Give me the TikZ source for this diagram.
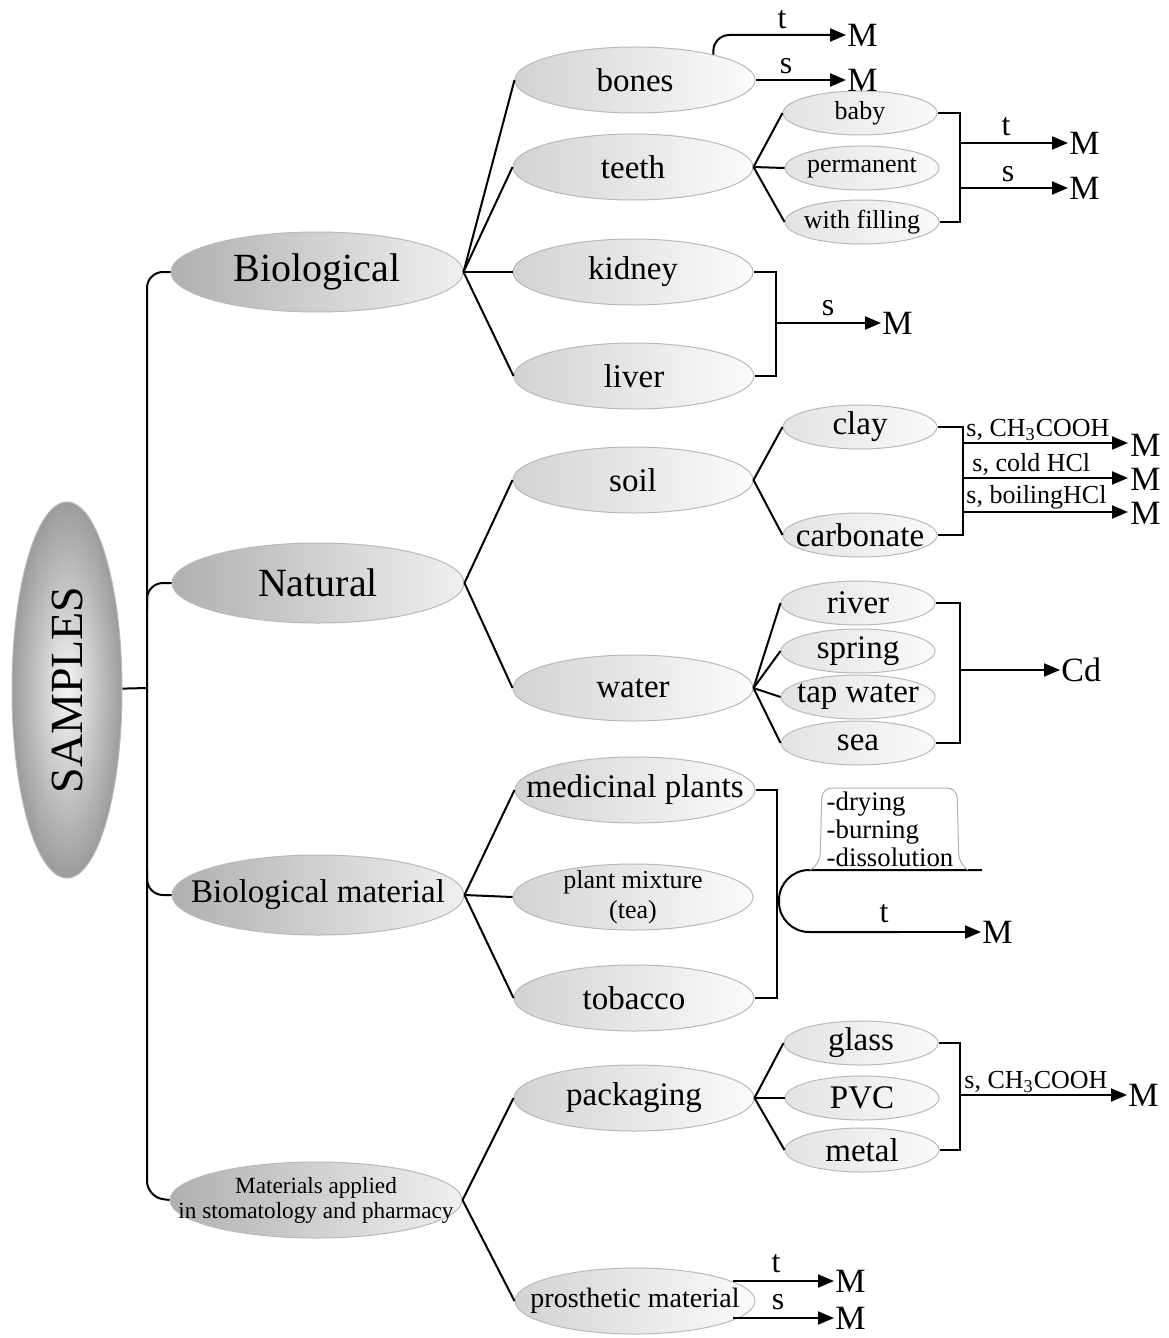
\documentclass[tikz,border=0pt]{standalone}
\usepackage{fontspec}
\setmainfont{Liberation Serif}
\usetikzlibrary{shapes.geometric,arrows.meta}
\begin{document}
\begin{tikzpicture}[x=0.5pt,y=-0.5pt,
  ell/.style={ellipse, draw=gray!55, line width=0.5pt, inner xsep=-70pt, inner ysep=-20pt},
  lone/.style={ell, minimum width=146pt, minimum height=40pt, left color=gray!62, right color=gray!12, font=\fontsize{20}{22}\selectfont},
  ltwo/.style={ell, minimum width=120pt, minimum height=33pt, left color=gray!35, right color=gray!3, font=\fontsize{16.5}{18}\selectfont},
  lthree/.style={ell, minimum width=77pt, minimum height=22pt, left color=gray!22, right color=gray!4, font=\fontsize{16.5}{18}\selectfont},
  lsmall/.style={lthree, font=\fontsize{13}{14}\selectfont},
  conn/.style={line width=1pt, black},
  arr/.style={conn, -{Triangle[length=8pt,width=6.5pt]}},
  res/.style={anchor=west, inner sep=0.5pt, font=\fontsize{17}{18}\selectfont},
  lab/.style={inner sep=1pt, font=\fontsize{16}{17}\selectfont},
  clab/.style={anchor=south west, inner sep=1pt, font=\fontsize{13}{14}\selectfont}
]
\useasboundingbox (0,0) rectangle (1168,1338);

% root
\node[ell, rotate=90, minimum width=188pt, minimum height=55pt, inner color=gray!8, outer color=gray!78, font=\fontsize{23}{24}\selectfont] (samples) at (67,690) {SAMPLES};

% level 1
\node[lone] (bio) at (317,272) {Biological};
\node[lone] (nat) at (318,583) {Natural};
\node[lone, font=\fontsize{16.5}{18}\selectfont] (biomat) at (318,895) {Biological material};
\node[lone, minimum height=38pt, font=\fontsize{11.6}{12.5}\selectfont, align=center] (mat) at (316,1200) {Materials applied\\in stomatology and pharmacy};

% level 2
\node[ltwo] (bones) at (635,80) {bones};
\node[ltwo] (teeth) at (633,167) {teeth};
\node[ltwo] (kidney) at (633,272) {kidney};
\node[ltwo] (liver) at (634,376) {liver};
\node[ltwo] (soil) at (633,480) {soil};
\node[ltwo] (water) at (633,688) {water};
\node[ltwo] (med) at (635,790) {medicinal plants};
\node[ltwo, align=center, font=\fontsize{13}{15}\selectfont] (mix) at (633,897) {plant mixture\\(tea)};
\node[ltwo] (tob) at (634,998) {tobacco};
\node[ltwo] (pack) at (634,1098) {packaging};
\node[ltwo, font=\fontsize{14}{16}\selectfont] (pro) at (635,1301) {prosthetic material};

% level 3
\node[lsmall] (baby) at (860,113) {baby};
\node[lsmall] (perm) at (862,168) {permanent};
\node[lsmall] (wf) at (862,222) {with filling};
\node[lthree] (clay) at (860,427) {clay};
\node[lthree] (carb) at (860,535) {carbonate};
\node[lthree] (river) at (858,603) {river};
\node[lthree] (spring) at (858,651) {spring};
\node[lthree] (tap) at (858,697) {tap water};
\node[lthree] (sea) at (858,743) {sea};
\node[lthree] (glass) at (861,1043) {glass};
\node[lthree] (pvc) at (862,1098) {PVC};
\node[lthree] (metal) at (862,1150) {metal};

% trunk
\draw[conn] (samples) -- (147,688);
\draw[conn, rounded corners=8pt] (bio.west) -- (147,272) -- (147,1197) -- (mat.west);
\draw[conn, rounded corners=8pt] (147,610) -- (147,583) -- (nat.west);
\draw[conn, rounded corners=8pt] (147,870) -- (147,895) -- (biomat.west);

% level 1 -> level 2
\foreach \c in {bones,teeth,kidney,liver} \draw[conn] (bio.east) -- (\c.west);
\foreach \c in {soil,water} \draw[conn] (nat.east) -- (\c.west);
\foreach \c in {med,mix,tob} \draw[conn] (biomat.east) -- (\c.west);
\foreach \c in {pack,pro} \draw[conn] (mat.east) -- (\c.west);

% level 2 -> level 3
\foreach \c in {baby,perm,wf} \draw[conn] (teeth.east) -- (\c.west);
\foreach \c in {clay,carb} \draw[conn] (soil.east) -- (\c.west);
\foreach \c in {river,spring,tap,sea} \draw[conn] (water.east) -- (\c.west);
\foreach \c in {glass,pvc,metal} \draw[conn] (pack.east) -- (\c.west);

% results
\node[res] (Mb1) at (846,35) {M};
\node[res] (Mb2) at (846,80) {M};
\node[lab] (lbt) at (782,20) {t};
\node[lab] (lbs) at (786,66) {s};
\draw[arr, rounded corners=8pt] (bones.18) |- (Mb1.west);
\draw[arr] (bones.east) -- (Mb2.west);

% teeth bracket
\draw[conn] (baby.east) -| (960,168) |- (wf.east);
\coordinate (tb1) at (960,143);
\coordinate (tb2) at (960,188);
\node[res] (Mt1) at (1068,143) {M};
\node[res] (Mt2) at (1068,188) {M};
\draw[arr] (tb1) -- (Mt1.west);
\draw[arr] (tb2) -- (Mt2.west);
\node[lab] (ltt) at (1006,127) {t};
\node[lab] (lts) at (1008,174) {s};

% kidney / liver bracket
\draw[conn] (kidney.east) -| (776,323) |- (liver.east);
\coordinate (kb) at (776,323);
\node[res] (Mk) at (881,323) {M};
\draw[arr] (kb) -- (Mk.west);
\node[lab] (lks) at (828,308) {s};

% soil bracket
\draw[conn] (clay.east) -| (963,480) |- (carb.east);
\coordinate (sb1) at (963,443);
\coordinate (sb2) at (963,478);
\coordinate (sb3) at (963,512);
\node[res] (Ms1) at (1129,445) {M};
\node[res] (Ms2) at (1129,479) {M};
\node[res] (Ms3) at (1129,513) {M};
\draw[arr] (sb1) -- (1128,443);
\draw[arr] (sb2) -- (1128,478);
\draw[arr] (sb3) -- (1128,512);
\node[clab] (ls1) at (964,443) {s, CH\textsubscript{3}COOH};
\node[clab] (ls2) at (970,478) {s, cold HCl};
\node[clab] (ls3) at (964,512) {s, boilingHCl};

% water bracket
\draw[conn] (river.east) -| (960,670) |- (sea.east);
\coordinate (wb) at (960,670);
\node[res] (Cd) at (1060,670) {Cd};
\draw[arr] (wb) -- (Cd.west);

% medicinal bracket
\draw[conn] (med.east) -| (777,900) |- (tob.east);
\node[res] (Mm) at (981,932) {M};
\coordinate (mtop) at (982,870);
\draw[conn, rounded corners=15pt] (mtop) -- (779,870) -- (779,932) -- (900,932);
\draw[arr] (880,932) -- (Mm.west);
\node[lab] (lmt) at (884,914) {t};
\draw[gray!60, line width=0.5pt, rounded corners=5pt] (810,870) -- (820,864) -- (822,788) -- (957,788) -- (959,864) -- (968,870);
\node[align=left, inner sep=0pt, font=\fontsize{13.4}{14}\selectfont] (steps) at (890,829) {-drying\\-burning\\-dissolution};

% packaging bracket
\draw[conn] (glass.east) -| (960,1098) |- (metal.east);
\coordinate (pb) at (960,1095);
\node[res] (Mp) at (1127,1095) {M};
\draw[arr] (pb) -- (Mp.west);
\node[clab] (lp) at (962,1095) {s, CH\textsubscript{3}COOH};

% prosthetic
\coordinate (pr1) at (733,1281);
\coordinate (pr2) at (733,1318);
\node[res] (Mpr1) at (834,1281) {M};
\node[res] (Mpr2) at (834,1318) {M};
\draw[arr] (pr1) -- (Mpr1.west);
\draw[arr] (pr2) -- (Mpr2.west);
\node[lab] (lpt) at (776,1264) {t};
\node[lab] (lps) at (778,1302) {s};
\end{tikzpicture}
\end{document}
